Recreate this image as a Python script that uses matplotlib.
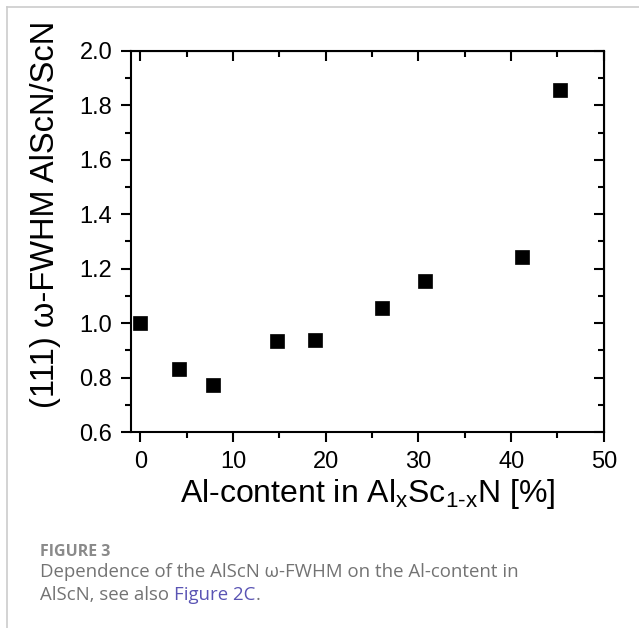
import matplotlib
matplotlib.use("Agg")
import matplotlib.pyplot as plt
from matplotlib.ticker import MultipleLocator
from matplotlib.lines import Line2D

# Al content [%] vs (111) omega-FWHM ratio AlScN/ScN
al_content = [0.0, 4.2, 7.8, 14.8, 18.8, 26.1, 30.7, 41.2, 45.3]
fwhm_ratio = [1.00, 0.83, 0.773, 0.934, 0.938, 1.056, 1.153, 1.244, 1.857]

x_label = r"Al-content in Al$_{\mathrm{x}}$Sc$_{\mathrm{1\text{-}x}}$N [%]"
y_label = "(111) \u03c9-FWHM AlScN/ScN"
fig_title = "FIGURE 3"
caption_1 = "Dependence of the AlScN \u03c9-FWHM on the Al-content in"
caption_2a = "AlScN, see also "
caption_2b = "Figure 2C"
caption_2c = "."

plt.rcParams["font.family"] = ["Liberation Sans", "DejaVu Sans"]
plt.rcParams["mathtext.fontset"] = "custom"
plt.rcParams["mathtext.rm"] = "Liberation Sans"
plt.rcParams["mathtext.it"] = "Liberation Sans"

fig = plt.figure(figsize=(6.39, 6.28), dpi=100)
ax = fig.add_axes([0.205, 0.312, 0.740, 0.607])

ax.plot(al_content, fwhm_ratio, linestyle="none", marker="s", markersize=10.5,
        color="black", markeredgewidth=0.5)

ax.set_xlim(-1, 50)
ax.set_ylim(0.6, 2.0)
ax.xaxis.set_major_locator(MultipleLocator(10))
ax.xaxis.set_minor_locator(MultipleLocator(5))
ax.yaxis.set_major_locator(MultipleLocator(0.2))
ax.yaxis.set_minor_locator(MultipleLocator(0.1))
ax.yaxis.set_major_formatter(matplotlib.ticker.FormatStrFormatter("%.1f"))

for s in ax.spines.values():
    s.set_linewidth(1.5)

# outward on bottom/left, inward mirrored on top/right
ax.tick_params(which="both", direction="out", width=1.5, labelsize=17, pad=6)
ax.tick_params(which="major", length=7.5)
ax.tick_params(which="minor", length=4)
ax2 = ax.secondary_xaxis("top")
ax2.xaxis.set_major_locator(MultipleLocator(10))
ax2.xaxis.set_minor_locator(MultipleLocator(5))
ax2.tick_params(which="both", direction="in", width=1.5)
ax2.tick_params(which="major", length=7.5)
ax2.tick_params(which="minor", length=4)
ax2.set_xticklabels([])
ay2 = ax.secondary_yaxis("right")
ay2.yaxis.set_major_locator(MultipleLocator(0.2))
ay2.yaxis.set_minor_locator(MultipleLocator(0.1))
ay2.tick_params(which="both", direction="in", width=1.5)
ay2.tick_params(which="major", length=7.5)
ay2.tick_params(which="minor", length=4)
ay2.set_yticklabels([])

ax.set_xlabel(x_label, fontsize=23)
ax.set_ylabel(y_label, fontsize=23.5)
ax.xaxis.set_label_coords(0.5, -0.118)
ax.yaxis.set_label_coords(-0.147, 0.57)

# page frame lines
fig.add_artist(Line2D([7 / 639, 7 / 639], [0, 1 - 7 / 628], color="#cccccc", lw=1.2))
fig.add_artist(Line2D([7 / 639, 1], [1 - 7 / 628, 1 - 7 / 628], color="#cccccc", lw=1.2))

# caption
cap_font = ["Open Sans", "DejaVu Sans"]
fig.text(40 / 639, 1 - 552 / 628, fig_title, fontsize=11.5, fontweight="bold",
         color="#8a8a8a", family=cap_font, va="center")
fig.text(40 / 639, 1 - 572 / 628, caption_1, fontsize=13.4, color="#737373",
         family=cap_font, va="center")
t_a = fig.text(40 / 639, 1 - 595 / 628, caption_2a, fontsize=13.4, color="#737373",
               family=cap_font, va="center")
fig.canvas.draw()
bb = t_a.get_window_extent()
t_b = fig.text(bb.x1 / fig.bbox.width, 1 - 595 / 628, caption_2b, fontsize=13.4,
               color="#5a54b4", family=cap_font, va="center")
fig.canvas.draw()
bb = t_b.get_window_extent()
fig.text(bb.x1 / fig.bbox.width, 1 - 595 / 628, caption_2c, fontsize=13.4,
         color="#737373", family=cap_font, va="center")

fig.savefig("out.png", dpi=100)
